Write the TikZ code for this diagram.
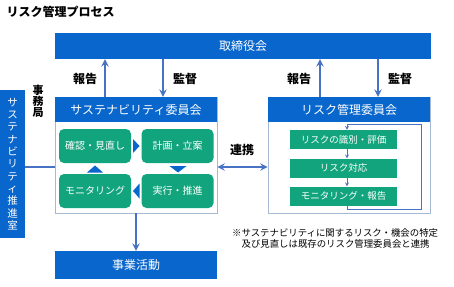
\documentclass[tikz,border=0pt]{standalone}
\usepackage{fontspec}
\setmainfont{Noto Sans CJK JP}
\usepackage{tikz}
\usetikzlibrary{arrows, positioning, calc}

\definecolor{barblue}{RGB}{8,102,204}
\definecolor{stepgreen}{RGB}{18,165,125}
\definecolor{arrblue}{RGB}{72,114,196}
\definecolor{framegray}{RGB}{165,185,212}

\begin{document}
\begin{tikzpicture}[
    x=1pt, y=-1pt,
    every node/.style={font=\fontsize{10}{12}\selectfont},
    bar/.style={rectangle, fill=barblue, text=white, inner sep=0pt, font=\fontsize{12}{14}\selectfont},
    frame/.style={rectangle, draw=framegray, fill=white, line width=0.8pt, inner sep=0pt},
    cyc/.style={rectangle, rounded corners=5pt, fill=stepgreen, text=white, minimum width=72pt, minimum height=34pt, inner sep=0pt},
    rstep/.style={rectangle, fill=stepgreen, text=white, minimum width=107pt, minimum height=19pt, inner sep=0pt, font=\fontsize{9.5}{11}\selectfont},
    tri/.style={fill=barblue},
    arr/.style={->, >=stealth, line width=2.2pt, arrblue},
    thin/.style={->, >=stealth, line width=0.7pt, arrblue},
    lbl/.style={font=\fontsize{12}{14}\selectfont\bfseries}
]
\useasboundingbox (0,0) rectangle (454,286);

% ===== Título =====
\node[anchor=west, font=\fontsize{12}{14}\selectfont\bfseries] (title) at (3,12) {リスク管理プロセス};

% ===== Barras =====
\node[bar, minimum width=376pt, minimum height=26pt] (board) at (243,46) {取締役会};
\node[bar, minimum width=162pt, minimum height=28pt] (biz) at (136,265) {事業活動};
\node[bar, minimum width=25pt, minimum height=148pt, align=center, font=\fontsize{10.5}{12.3}\selectfont] (office) at (12.5,164)
  {サ\\ス\\テ\\ナ\\ビ\\リ\\テ\\ィ\\推\\進\\室};
\node[lbl, align=center, font=\fontsize{11}{11}\selectfont\bfseries] (sec) at (38,101) {事\\務\\局};

% ===== Comité de sostenibilidad =====
\node[frame, minimum width=162pt, minimum height=116pt] (scbox) at (136,155) {};
\node[bar, minimum width=162pt, minimum height=25pt] (schead) at (136,109.5) {サステナビリティ委員会};
\node[cyc] (chk) at (95,146) {確認・見直し};
\node[cyc] (plan) at (177.5,146) {計画・立案};
\node[cyc] (mon) at (95,191) {モニタリング};
\node[cyc] (exe) at (177.5,191) {実行・推進};

% triángulos del ciclo
\fill[tri] (133,139) -- (139.5,146) -- (133,153) -- cycle;
\fill[tri] (169.5,166) -- (186.5,166) -- (178,172.5) -- cycle;
\fill[tri] (139.5,183.5) -- (133,191) -- (139.5,198.5) -- cycle;
\fill[tri] (87,172.5) -- (103,172.5) -- (95,165.5) -- cycle;

% ===== Comité de riesgos =====
\node[frame, minimum width=162pt, minimum height=116pt] (rmbox) at (349,155) {};
\node[bar, minimum width=162pt, minimum height=25pt] (rmhead) at (349,109.5) {リスク管理委員会};
\node[rstep] (r1) at (343.5,139.5) {リスクの識別・評価};
\node[rstep] (r2) at (343.5,168) {リスク対応};
\node[rstep] (r3) at (343.5,196) {モニタリング・報告};

\coordinate (lpa) at (347,209);
\coordinate (lpb) at (421,209);
\coordinate (lpc) at (421,124);
\coordinate (lpd) at (347,124);

\draw[thin] ([xshift=3.5pt]r1.south) -- ([xshift=3.5pt]r2.north);
\draw[thin] ([xshift=3.5pt]r2.south) -- ([xshift=3.5pt]r3.north);
\draw[thin] ([xshift=3.5pt]r3.south) -- (lpa) -- (lpb) -- (lpc) -- (lpd) -- ([xshift=3.5pt]r1.north);

% ===== Conexiones =====
\draw[arr] ([xshift=-31pt]schead.north) -- ([xshift=-31pt]schead.north |- board.south);
\draw[arr] ([xshift=27pt]schead.north |- board.south) -- ([xshift=27pt]schead.north);
\draw[arr] ([xshift=-29pt]rmhead.north) -- ([xshift=-29pt]rmhead.north |- board.south);
\draw[arr] ([xshift=29pt]rmhead.north |- board.south) -- ([xshift=29pt]rmhead.north);

\node[lbl] (rep1) at (85,79) {報告};
\node[lbl] (sup1) at (185,79) {監督};
\node[lbl] (rep2) at (299,79) {報告};
\node[lbl] (sup2) at (400,79) {監督};

\coordinate (lk) at (242,167);
\draw[arr, <->] (scbox.east |- lk) -- (rmbox.west |- lk);
\node[lbl] (link) at (242,150) {連携};
\draw[line width=1.5pt, arrblue] (office.east |- lk) -- (scbox.west |- lk);
\draw[arr] (scbox.south) -- (biz.north);

% ===== Nota =====
\node[anchor=north west, align=left, inner sep=0pt, font=\fontsize{9.4}{11.5}\selectfont] (note) at (232,228)
  {※サステナビリティに関するリスク・機会の特定\\\hspace{1em}及び見直しは既存のリスク管理委員会と連携};

\end{tikzpicture}
\end{document}
